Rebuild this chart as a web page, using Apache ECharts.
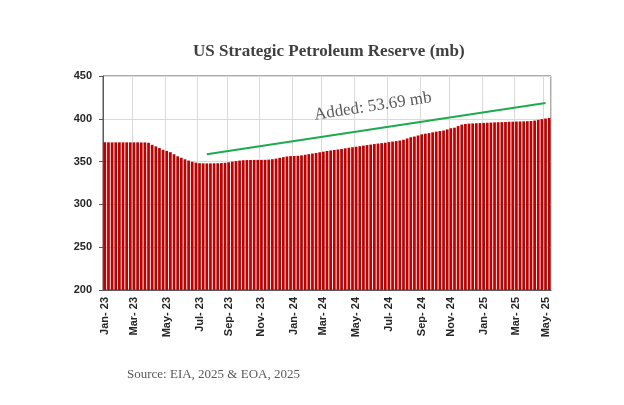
<!DOCTYPE html>
<html>
<head>
<meta charset="utf-8">
<script src="https://cdn.jsdelivr.net/npm/echarts@6/dist/echarts.min.js"></script>
<style>
  html, body { margin: 0; padding: 0; background: #fff; }
  #chart { width: 624px; height: 405px; }
</style>
</head>
<body>
<div id="chart"></div>
<script>
// weekly EIA reporting dates, Fridays from 6 Jan 2023 to 9 May 2025
const firstWeek = "2023-01-06";
const weekCount = 123;

// SPR stock, million barrels
const sprStock = [
  372.6, 372.5, 372.5, 372.5, 372.5, 372.5, 372.5, 372.5, 372.5, 372.5,
  372.4, 372.4, 372.0, 369.6, 367.8, 365.8, 363.8, 362.5, 361.0, 358.6,
  356.2, 354.4, 352.7, 351.2, 349.8, 348.8, 348.2, 348.0, 347.9, 347.9,
  348.0, 348.1, 348.3, 348.6, 349.2, 350.0, 350.6, 351.2, 351.6, 351.8,
  351.9, 352.0, 352.0, 352.0, 352.1, 352.3, 352.8, 353.5, 354.4, 355.2,
  356.0, 356.4, 356.6, 356.8, 357.3, 358.0, 358.7, 359.4, 360.1, 360.9,
  361.6, 362.4, 363.0, 363.6, 364.2, 364.8, 365.5, 366.2, 366.8, 367.4,
  368.0, 368.7, 369.3, 369.9, 370.5, 371.1, 371.6, 372.1, 372.8, 373.4,
  374.0, 374.6, 375.5, 377.0, 378.5, 379.3, 380.5, 381.8, 382.6, 383.3,
  384.2, 385.0, 385.7, 386.3, 387.6, 389.0, 389.6, 391.5, 393.2, 394.0,
  394.4, 394.6, 394.8, 395.0, 395.2, 395.4, 395.6, 395.8, 396.0, 396.1,
  396.3, 396.5, 396.6, 396.8, 396.9, 397.0, 397.2, 397.4, 397.9, 398.8,
  399.6, 400.3, 401.0
];

// weeks that carry an axis label (first week of every other month)
const labelWeeks = [0, 8, 17, 26, 34, 43, 52, 60, 69, 78, 87, 95, 104, 113, 121];
const monthNames = ["Jan", "Feb", "Mar", "Apr", "May", "Jun", "Jul", "Aug", "Sep", "Oct", "Nov", "Dec"];

const yTicks = { min: 200, max: 450, step: 50 };

// hand-drawn trend line and its note
const trendStart = ["2023-07-21", 358.5];
const trendEnd = ["2025-05-02", 418.5];
const trendNote = "Added: 53.69 mb";

const weeks = [];
for (let i = 0; i < weekCount; i++) {
  const d = new Date(firstWeek + "T00:00:00Z");
  d.setUTCDate(d.getUTCDate() + 7 * i);
  weeks.push(d.toISOString().slice(0, 10));
}

const showWeek = (idx) => labelWeeks.indexOf(idx) !== -1;

const chart = echarts.init(document.getElementById("chart"));

chart.setOption({
  backgroundColor: "#fff",
  animation: false,
  title: {
    text: "US Strategic Petroleum Reserve (mb)",
    left: 188,
    top: 38,
    textStyle: {
      fontFamily: "Liberation Serif",
      fontWeight: "bold",
      fontSize: 17,
      color: "#404040",
    },
  },
  graphic: [
    {
      type: "text",
      left: 127,
      top: 368,
      style: {
        text: "Source: EIA, 2025 & EOA, 2025",
        font: "13px 'Liberation Serif'",
        fill: "#595959",
      },
    },
  ],
  grid: {
    left: 103,
    right: 73,
    top: 76,
    bottom: 115,
    show: true,
    borderColor: "#595959",
    borderWidth: 1,
  },
  xAxis: {
    type: "category",
    data: weeks,
    axisLine: { lineStyle: { color: "#595959" } },
    axisTick: {
      interval: showWeek,
      length: 4,
      lineStyle: { color: "#595959" },
    },
    splitLine: {
      show: true,
      interval: showWeek,
      lineStyle: { color: "#d9d9d9" },
    },
    axisLabel: {
      interval: showWeek,
      rotate: 90,
      margin: 7,
      fontFamily: "Liberation Sans",
      fontWeight: "bold",
      fontSize: 11,
      color: "#262626",
      formatter: (v) => {
        const d = new Date(v + "T00:00:00Z");
        return monthNames[d.getUTCMonth()] + "- " + String(d.getUTCFullYear()).slice(2);
      },
    },
  },
  yAxis: {
    type: "value",
    min: yTicks.min,
    max: yTicks.max,
    interval: yTicks.step,
    axisLine: { show: true, lineStyle: { color: "#595959" } },
    axisTick: { show: true, length: 4, lineStyle: { color: "#595959" } },
    splitLine: { lineStyle: { color: "#d9d9d9" } },
    axisLabel: {
      margin: 11,
      fontFamily: "Liberation Sans",
      fontWeight: "bold",
      fontSize: 11,
      color: "#262626",
    },
  },
  series: [
    {
      type: "bar",
      data: sprStock,
      barCategoryGap: "25%",
      itemStyle: { color: "#c00000" },
      markLine: {
        silent: true,
        symbol: ["none", "none"],
        lineStyle: { color: "#1faa4f", width: 2, type: "solid" },
        label: {
          show: true,
          position: "insideMiddleTop",
          distance: 14,
          formatter: trendNote,
          fontFamily: "Liberation Serif",
          fontSize: 17,
          color: "#595959",
        },
        data: [[{ coord: trendStart }, { coord: trendEnd }]],
      },
    },
  ],
});
</script>
</body>
</html>
